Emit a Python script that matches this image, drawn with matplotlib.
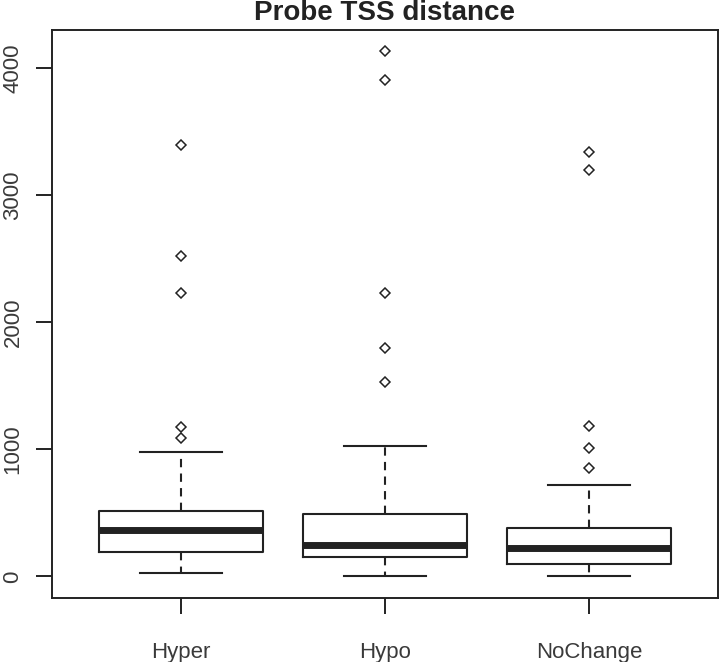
import numpy as np
import matplotlib
matplotlib.use('Agg')
import matplotlib.pyplot as plt

# ============================================================
# data
# ============================================================
groups = ['Hyper', 'Hypo', 'NoChange']
whisker_low = [27, 0, 0]
q1 = [195, 155, 95]
median = [366, 250, 226]
q3 = [518, 492, 378]
whisker_high = [977, 1030, 720]
outliers = [
    [1088, 1177, 2228, 2519, 3393],
    [1526, 1794, 2228, 3906, 4132],
    [851, 1009, 1182, 3197, 3341],
]

plt.rcParams['font.family'] = ['Liberation Sans', 'DejaVu Sans']

stats = []
for i, g in enumerate(groups):
    stats.append({
        'label': g,
        'whislo': whisker_low[i],
        'q1': q1[i],
        'med': median[i],
        'q3': q3[i],
        'whishi': whisker_high[i],
        'fliers': outliers[i],
    })

line_c = '#222222'
text_c = '#3a3a3a'

fig = plt.figure(figsize=(7.2, 6.62), dpi=100)
ax = fig.add_axes([52 / 720, 64 / 662, 666 / 720, 568 / 662])

ax.bxp(stats, positions=[1, 2, 3], widths=0.8, showfliers=True,
       boxprops=dict(color=line_c, linewidth=1.5),
       medianprops=dict(color=line_c, linewidth=5, solid_capstyle='butt'),
       whiskerprops=dict(color=line_c, linewidth=1.5, linestyle=(0, (4, 3))),
       capprops=dict(color=line_c, linewidth=1.5),
       capwidths=0.4,
       flierprops=dict(marker='D', markersize=5.5, markerfacecolor='none',
                       markeredgecolor=line_c, markeredgewidth=1.1))

ax.set_xlim(0.368, 3.632)
ax.set_ylim(-170, 4300)

ax.set_yticks([0, 1000, 2000, 3000, 4000])
ax.set_yticklabels(['0', '1000', '2000', '3000', '4000'], rotation=90,
                   va='center', fontsize=16, color=text_c)
ax.set_xticks([1, 2, 3])
ax.set_xticklabels(groups, fontsize=16, color=text_c)
ax.tick_params(axis='y', length=11.5, width=1.4, color=line_c, pad=9)
ax.tick_params(axis='x', length=11.5, width=1.4, color=line_c, pad=20)

for sp in ax.spines.values():
    sp.set_color(line_c)
    sp.set_linewidth(1.4)

fig.text(385 / 720, 1 - 20 / 662, 'Probe TSS distance', ha='center',
         va='baseline', fontsize=20, fontweight='bold', color=line_c)

plt.savefig('out.png', dpi=100)
plt.close()
